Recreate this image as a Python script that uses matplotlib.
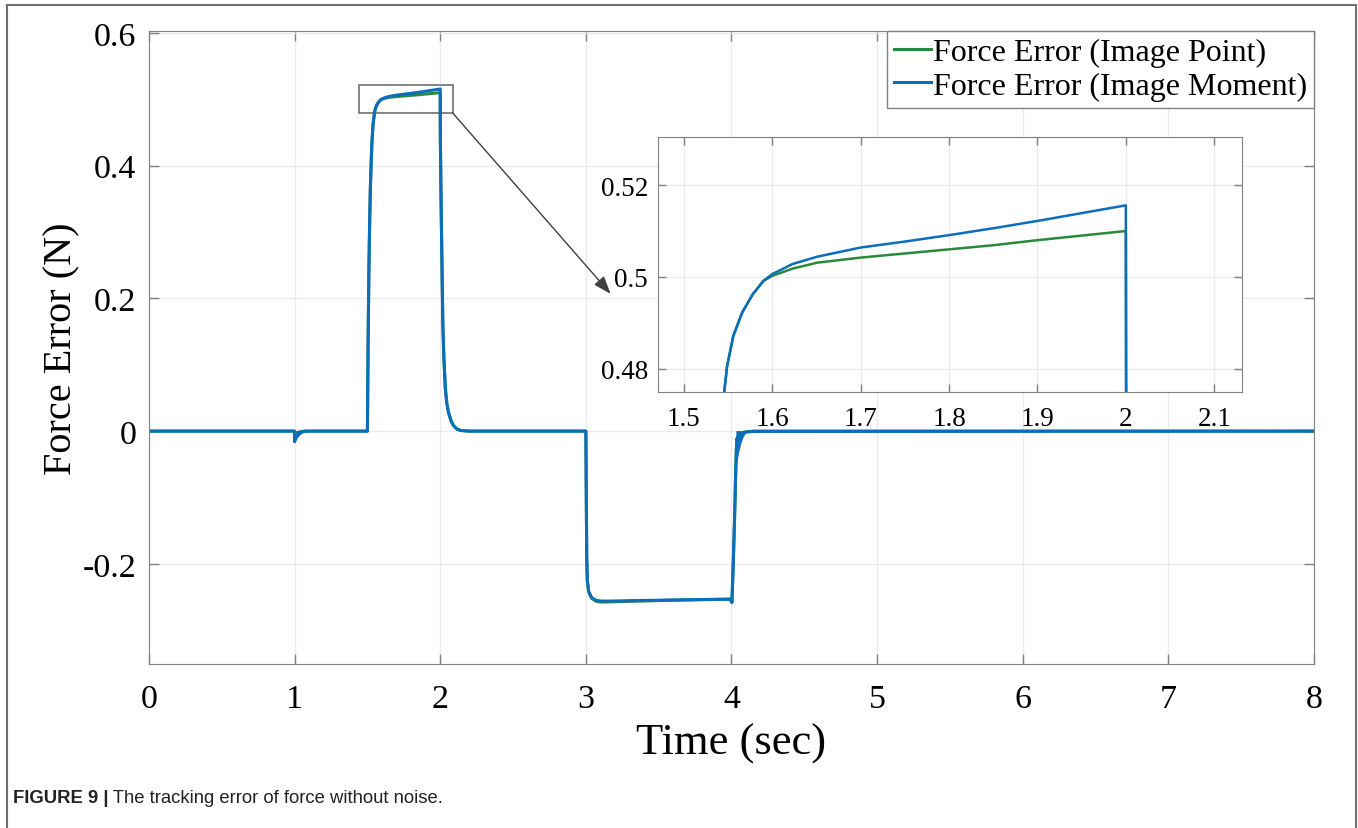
import matplotlib.pyplot as plt
from matplotlib.lines import Line2D
from matplotlib.patches import Rectangle

plt.rcParams['font.family'] = ['Liberation Serif', 'DejaVu Serif']

# force error (N) over time (s), Image Point controller
t_point = [0.0, 0.999, 1.0, 1.005, 1.015, 1.03, 1.05, 1.075,
           1.499, 1.5, 1.505, 1.51, 1.515, 1.52, 1.525, 1.53, 1.535, 1.54,
           1.5457, 1.549, 1.556, 1.566, 1.578, 1.59, 1.6, 1.623, 1.651,
           1.7, 1.75, 1.8, 1.85, 1.9, 1.95, 2.0,
           2.0005, 2.005, 2.01, 2.018, 2.025, 2.035, 2.045, 2.057, 2.075,
           2.092, 2.115, 2.14, 2.2,
           2.999, 3.0, 3.003, 3.006, 3.01, 3.02, 3.04, 3.07, 3.1, 3.15,
           3.3, 3.6, 3.9, 3.99,
           4.003, 4.012, 4.021, 4.028, 4.033, 4.036, 4.06, 4.1, 4.15, 8.0]
f_point = [0.0, 0.0, -0.008, -0.005, -0.003, -0.0015, -0.0005, 0.0,
           0.0, 0.0, 0.14, 0.24, 0.31, 0.365, 0.40, 0.43, 0.45, 0.465,
           0.4748, 0.4805, 0.4871, 0.4922, 0.4962, 0.4991, 0.5002, 0.5018, 0.5031,
           0.5042, 0.5051, 0.5060, 0.5069, 0.5080, 0.5090, 0.5100,
           0.45, 0.36, 0.28, 0.16, 0.11, 0.065, 0.042, 0.028, 0.015,
           0.008, 0.003, 0.001, 0.0,
           0.0, 0.0, -0.1, -0.19, -0.226, -0.243, -0.252, -0.2565, -0.2575, -0.2575,
           -0.2565, -0.2548, -0.2536, -0.2533,
           -0.2575, -0.2, -0.133, -0.07, -0.032, -0.012, -0.003, -0.001, 0.0, 0.0]

# force error (N) over time (s), Image Moment controller
t_moment = t_point
f_moment = [0.0, 0.0, -0.016, -0.009, -0.005, -0.0025, -0.001, 0.0,
            0.0, 0.0, 0.14, 0.24, 0.31, 0.365, 0.40, 0.43, 0.45, 0.465,
            0.4748, 0.4805, 0.4871, 0.4922, 0.4962, 0.4991, 0.5006, 0.5028, 0.5044,
            0.5064, 0.5077, 0.5091, 0.5106, 0.5122, 0.5139, 0.5156,
            0.45, 0.36, 0.28, 0.16, 0.11, 0.065, 0.042, 0.028, 0.015,
            0.008, 0.003, 0.001, 0.0,
            0.0, 0.0, -0.1, -0.19, -0.225, -0.242, -0.251, -0.255, -0.256, -0.2562,
            -0.2555, -0.2545, -0.2535, -0.2532,
            -0.2585, -0.2, -0.133, -0.07, -0.032, -0.012, -0.004, -0.0015, -0.0005, 0.0]

# lower envelope of the chattering right after the steps at t=1 and t=4
t_band1 = [1.0, 1.01, 1.02, 1.03, 1.045, 1.06, 1.075]
low_band1 = [-0.016, -0.0115, -0.008, -0.0055, -0.003, -0.0012, 0.0]
t_band4 = [4.034, 4.045, 4.06, 4.075, 4.09, 4.1]
low_band4 = [-0.045, -0.032, -0.018, -0.009, -0.003, 0.0]

labels = ['Force Error (Image Point)', 'Force Error (Image Moment)']
green = '#2a8a3c'
blue = '#0a6ebd'
spine_gray = '#808080'
grid_gray = '#ebebeb'

fig = plt.figure(figsize=(13.58, 8.29), dpi=100)
ax = fig.add_axes([0.1097, 0.1978, 0.8579, 0.7636])

ax.plot(t_point, f_point, color=green, lw=2.2, label=labels[0])
ax.plot(t_moment, f_moment, color=blue, lw=2.2, label=labels[1])
ax.fill_between(t_band1, low_band1, 0, color=blue, lw=0.8)
ax.fill_between(t_band4, low_band4, 0, color=blue, lw=0.8)

ax.set_xlim(0, 8)
ax.set_ylim(-0.351, 0.603)
ax.set_xticks(range(0, 9))
ax.set_yticks([-0.2, 0, 0.2, 0.4, 0.6])
ax.set_yticklabels(['-0.2', '0', '0.2', '0.4', '0.6'])
ax.grid(True, color=grid_gray, lw=1)
ax.set_axisbelow(True)
ax.tick_params(direction='in', length=7, width=1, color=spine_gray,
               top=True, right=True, labelsize=24.5)
ax.tick_params(axis='x', pad=14)
ax.tick_params(axis='y', pad=9)
for s in ax.spines.values():
    s.set_color(spine_gray)
ax.set_xlabel('Time (sec)', fontsize=32, labelpad=6)
ax.set_ylabel('Force Error (N)', fontsize=29, labelpad=2)

leg = ax.legend(loc='upper right', bbox_to_anchor=(1, 1), borderaxespad=0,
                fontsize=23, fancybox=False, framealpha=1, edgecolor=spine_gray,
                handlelength=1.15, handletextpad=0.06, borderpad=0.22,
                labelspacing=0.12)
leg.get_frame().set_linewidth(1)

# box around the zoomed region and arrow to the inset
ax.add_patch(Rectangle((1.443, 0.4796), 0.642, 0.0427, fill=False,
                       ec='#707070', lw=1.2))
ax.annotate('', xy=(3.17, 0.207), xytext=(2.085, 0.4796),
            arrowprops=dict(arrowstyle='-|>,head_length=0.6,head_width=0.22',
                            color='#404040', lw=1,
                            mutation_scale=18, shrinkA=0, shrinkB=0))

ins = fig.add_axes([0.4843, 0.526, 0.4303, 0.3075])
ins.plot(t_point, f_point, color=green, lw=1.8)
ins.plot(t_moment, f_moment, color=blue, lw=1.8)
ins.set_xlim(1.4705, 2.1314)
ins.set_ylim(0.4749, 0.5305)
ins.set_xticks([1.5, 1.6, 1.7, 1.8, 1.9, 2.0, 2.1])
ins.set_xticklabels(['1.5', '1.6', '1.7', '1.8', '1.9', '2', '2.1'])
ins.set_yticks([0.48, 0.5, 0.52])
ins.set_yticklabels(['0.48', '0.5', '0.52'])
ins.grid(True, color=grid_gray, lw=1)
ins.tick_params(direction='in', length=6, width=1, color=spine_gray,
                top=True, right=True, labelsize=19.5)
ins.tick_params(axis='x', pad=10)
ins.tick_params(axis='y', pad=7)
for s in ins.spines.values():
    s.set_color(spine_gray)

# page frame and caption
frame_kw = dict(color='#707070', lw=1.5, transform=fig.transFigure)
fig.add_artist(Line2D([0.0052, 0.0052], [0, 0.9928], **frame_kw))
fig.add_artist(Line2D([0.9985, 0.9985], [0, 0.9928], **frame_kw))
fig.add_artist(Line2D([0.0052, 0.9985], [0.9928, 0.9928], **frame_kw))

cap = fig.text(0.0095, 0.0365, 'FIGURE 9 |', family='Liberation Sans',
               weight='bold', fontsize=13.3, color='#222222', va='center')
fig.canvas.draw()
bb = cap.get_window_extent().transformed(fig.transFigure.inverted())
fig.text(bb.x1, 0.0365, ' The tracking error of force without noise.',
         family='Liberation Sans', fontsize=13.3, color='#222222', va='center')

fig.savefig('out.png', dpi=100)
